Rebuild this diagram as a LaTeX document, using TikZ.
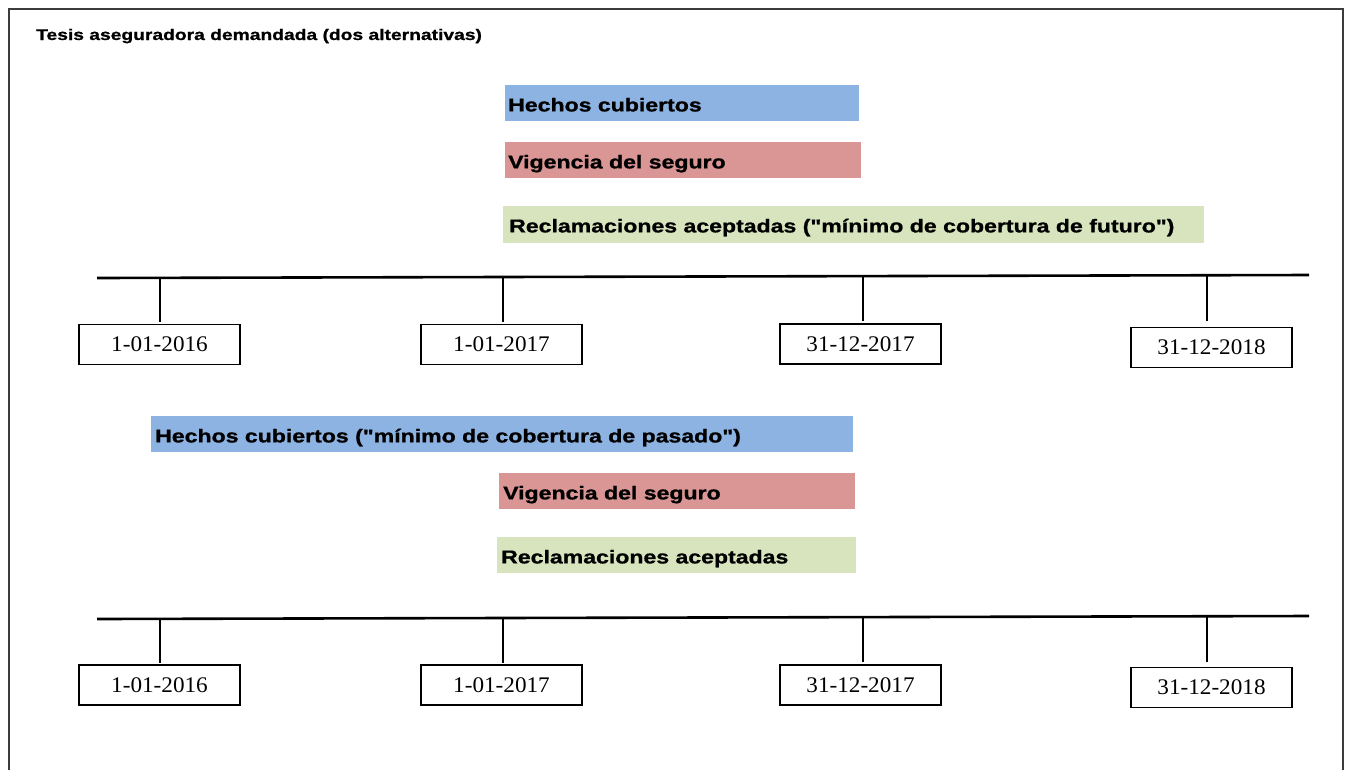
\documentclass[tikz,border=0pt]{standalone}
\usepackage{fontspec}
\setmainfont{Liberation Serif}
\newfontfamily\heavysans{Liberation Sans Bold}[FakeBold=0.9]
\usepackage{graphicx}
\definecolor{barblue}{RGB}{141,179,226}
\definecolor{barred}{RGB}{217,150,148}
\definecolor{bargreen}{RGB}{215,228,189}
\definecolor{framegray}{RGB}{60,60,60}
\newcommand\qd{\symbol{34}}
\newcommand\barlbl[1]{\scalebox{1.24}[1]{\fontsize{18.6}{22}\selectfont\heavysans #1}}
\newcommand\datelbl[1]{\scalebox{1.04}[1]{\fontsize{22.3}{26}\selectfont #1}}
\begin{document}
\begin{tikzpicture}[x=1pt,y=-1pt,
  barbox/.style={draw=none,inner sep=0pt,anchor=north west,minimum height=36pt},
  barlabel/.style={inner sep=0pt,anchor=base west},
  datebox/.style={draw=black,line width=1.2pt,minimum width=161pt,minimum height=40pt,inner sep=0pt},
  axis/.style={line width=2.6pt},
  tick/.style={line width=2.8pt},
  frame/.style={draw=framegray,line width=1.5pt}]
\useasboundingbox (0,0) rectangle (1346,769);
\fill[white] (0,0) rectangle (1346,769);
% frame
\coordinate (f1) at (9,775);
\coordinate (f2) at (9,9);
\coordinate (f3) at (1343,9);
\coordinate (f4) at (1343,775);
\draw[frame] (f1) -- (f2) -- (f3) -- (f4);
% title
\node[inner sep=0pt,anchor=base west] (title) at (36,40)
  {\scalebox{1.25}[1]{\fontsize{15.4}{18}\selectfont\heavysans Tesis aseguradora demandada (dos alternativas)}};

% ---------- top section ----------
\node[barbox,fill=barblue,minimum width=354pt] (a1) at (505,85) {};
\node[barlabel] (a1t) at ([xshift=3pt,yshift=10pt]a1.south west) {\barlbl{Hechos cubiertos}};
\node[barbox,fill=barred,minimum width=356pt] (a2) at (505,142) {};
\node[barlabel] (a2t) at ([xshift=3pt,yshift=10pt]a2.south west) {\barlbl{Vigencia del seguro}};
\node[barbox,fill=bargreen,minimum width=701pt,minimum height=37pt] (a3) at (503,206) {};
\node[barlabel] (a3t) at ([xshift=6pt,yshift=11pt]a3.south west) {\barlbl{Reclamaciones aceptadas (\qd mínimo de cobertura de futuro\qd)}};

\coordinate (L1a) at (97,278);
\coordinate (L1b) at (1309,275);
\draw[axis] (L1a) -- (L1b);
\node[datebox] (d11) at (159.5,344.5) {\datelbl{1-01-2016}};
\node[datebox] (d12) at (501.5,344.5) {\datelbl{1-01-2017}};
\node[datebox] (d13) at (860.5,344) {\datelbl{31-12-2017}};
\node[datebox] (d14) at (1211.5,347.5) {\datelbl{31-12-2018}};
\coordinate (k11) at (160,277.5);
\coordinate (k12) at (503,277);
\coordinate (k13) at (863,276);
\coordinate (k14) at (1207,275.5);
\draw[tick] (k11) -- (k11 |- 0,322);
\draw[tick] (k12) -- (k12 |- 0,322);
\draw[tick] (k13) -- (k13 |- 0,321);
\draw[tick] (k14) -- (k14 |- 0,321);

% ---------- bottom section ----------
\node[barbox,fill=barblue,minimum width=702pt] (b1) at (151,416) {};
\node[barlabel] (b1t) at ([xshift=4pt,yshift=10pt]b1.south west) {\barlbl{Hechos cubiertos (\qd mínimo de cobertura de pasado\qd)}};
\node[barbox,fill=barred,minimum width=356pt] (b2) at (499,473) {};
\node[barlabel] (b2t) at ([xshift=4pt,yshift=10pt]b2.south west) {\barlbl{Vigencia del seguro}};
\node[barbox,fill=bargreen,minimum width=359pt] (b3) at (497,537) {};
\node[barlabel] (b3t) at ([xshift=4pt,yshift=10pt]b3.south west) {\barlbl{Reclamaciones aceptadas}};

\coordinate (L2a) at (97,619);
\coordinate (L2b) at (1309,616);
\draw[axis] (L2a) -- (L2b);
\node[datebox] (d21) at (159.5,685) {\datelbl{1-01-2016}};
\node[datebox] (d22) at (501.5,685) {\datelbl{1-01-2017}};
\node[datebox] (d23) at (860.5,685) {\datelbl{31-12-2017}};
\node[datebox] (d24) at (1211.5,687.5) {\datelbl{31-12-2018}};
\coordinate (k21) at (160,618.5);
\coordinate (k22) at (503,618);
\coordinate (k23) at (863,617);
\coordinate (k24) at (1207,616.5);
\draw[tick] (k21) -- (k21 |- 0,663);
\draw[tick] (k22) -- (k22 |- 0,663);
\draw[tick] (k23) -- (k23 |- 0,662);
\draw[tick] (k24) -- (k24 |- 0,662);
\end{tikzpicture}
\end{document}
